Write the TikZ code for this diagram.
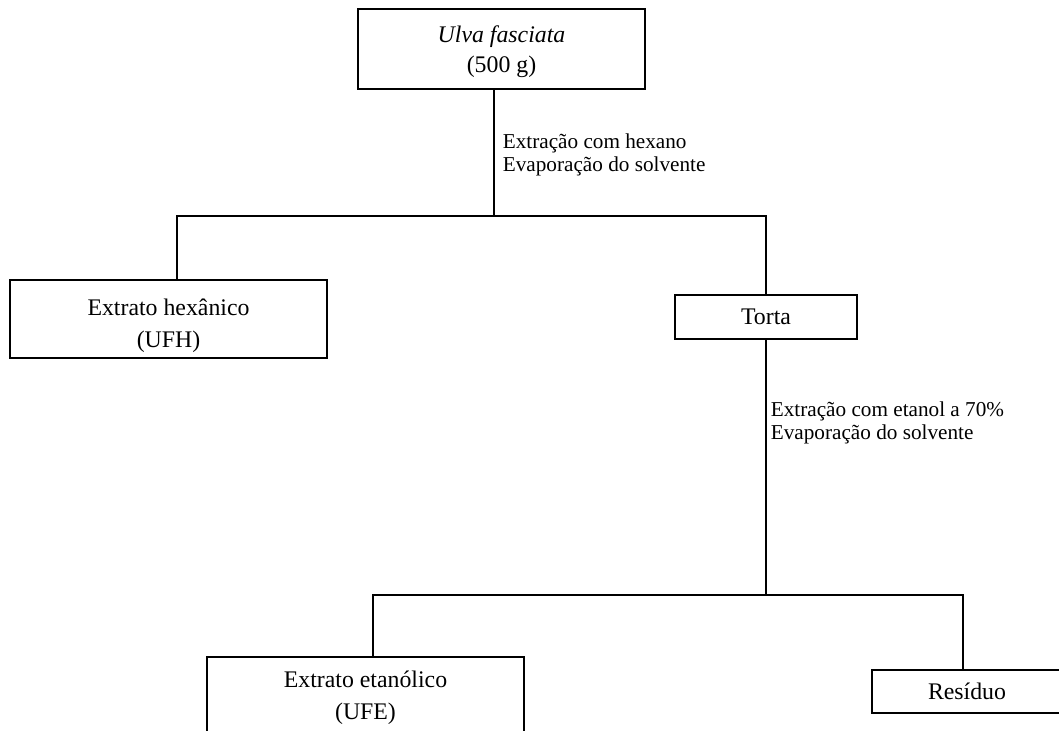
\documentclass[tikz,border=0pt]{standalone}
\usepackage{fontspec}
\setmainfont{Liberation Serif}
\begin{document}
\begin{tikzpicture}[x=0.5pt,y=-0.5pt,line width=0.9pt,
  caixa/.style={draw,rectangle,inner sep=0pt,align=center,font=\fontsize{11.9}{16}\selectfont},
  etapa/.style={inner sep=0pt,align=left,anchor=north west,font=\fontsize{10.6}{11.5}\selectfont}]

\useasboundingbox (0,0) rectangle (1059,731);

\node[caixa,minimum width=143.5pt,anchor=north,font=\fontsize{11.9}{15}\selectfont] (ulva) at (501.5,8)
  {\rule{0pt}{17pt}\textit{Ulva fasciata}\\(500 g)\rule[-8pt]{0pt}{8pt}};

\node[caixa,minimum width=158.5pt,anchor=north] (hex) at (168.5,279)
  {\rule{0pt}{18pt}Extrato hexânico\\(UFH)\rule[-5pt]{0pt}{5pt}};
\node[caixa,minimum width=91pt,minimum height=22pt] (torta) at (766,317) {Torta};

\node[caixa,minimum width=158.5pt,anchor=north] (etanol) at (365.5,656)
  {\rule{0pt}{15.5pt}Extrato etanólico\\(UFE)\rule[-8pt]{0pt}{8pt}};
\node[caixa,minimum width=95pt,minimum height=21.5pt] (residuo) at (967,691.5) {Resíduo};

\node[etapa] (hexano) at (502,132.5) {Extração com hexano\\Evaporação do solvente};
\node[etapa] (etanol70) at (770,400.5) {Extração com etanol a 70\%\\Evaporação do solvente};

\coordinate (s1)  at (494,216);
\coordinate (s1e) at (177,216);
\coordinate (s1d) at (766,216);
\coordinate (s2)  at (766,595);
\coordinate (s2e) at (373,595);
\coordinate (s2d) at (963,595);

\draw (ulva.south -| s1) -- (s1);
\draw (hex.north -| s1e) -- (s1e) -- (s1d) -- (torta.north);
\draw (torta.south) -- (s2);
\draw (etanol.north -| s2e) -- (s2e) -- (s2d) -- (residuo.north -| s2d);

\end{tikzpicture}
\end{document}
